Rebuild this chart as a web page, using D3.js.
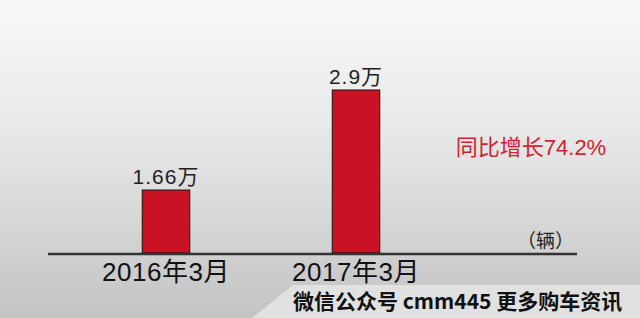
<!DOCTYPE html>
<html>
<head>
<meta charset="utf-8">
<script src="https://cdn.jsdelivr.net/npm/d3@7"></script>
<style>
  body { margin: 0; }
  text { font-family: "Liberation Sans", Arial, "Noto Sans CJK SC", sans-serif; }
</style>
</head>
<body>
<div id="chart"></div>
<script>
var categories = ['2016年3月', '2017年3月'];
var values = [1.66, 2.9];
var valueLabels = ['1.66万', '2.9万'];
var unitLabel = '（辆）';
var growthLabel = '同比增长74.2%';
var footerLabel = '微信公众号 cmm445 更多购车资讯';

var width = 640, height = 318;
var baseY = 253;

var svg = d3.select('#chart').append('svg')
    .attr('width', width)
    .attr('height', height);

// background gradient
var defs = svg.append('defs');
var grad = defs.append('linearGradient')
    .attr('id', 'bg')
    .attr('x1', 0).attr('y1', 0)
    .attr('x2', 0).attr('y2', 1);
grad.append('stop').attr('offset', '0%').attr('stop-color', '#f9f9f9');
grad.append('stop').attr('offset', '45%').attr('stop-color', '#e6e6e6');
grad.append('stop').attr('offset', '100%').attr('stop-color', '#c3c3c3');

svg.append('rect')
    .attr('width', width)
    .attr('height', height)
    .attr('fill', 'url(#bg)');

// footer banner
svg.append('polygon')
    .attr('points', '293,285 640,285 640,318 252,318')
    .attr('fill', '#e1e1e1');

svg.append('text')
    .attr('x', 293)
    .attr('y', 309)
    .style('font-family', '"Noto Sans CJK SC", "Liberation Sans", sans-serif')
    .style('font-size', '21px')
    .style('font-weight', 'bold')
    .attr('fill', '#111')
    .text(footerLabel);

var x = d3.scaleBand()
    .domain(categories)
    .range([71, 451])
    .paddingInner(0.75)
    .paddingOuter(0.375);

var y = d3.scaleLinear()
    .domain([0.88, 2.9])
    .range([baseY, 90]);

// bars
svg.selectAll('.bar')
    .data(values)
    .enter()
    .append('rect')
    .attr('class', 'bar')
    .attr('x', (d, i) => x(categories[i]))
    .attr('y', d => y(d))
    .attr('width', x.bandwidth())
    .attr('height', d => baseY - y(d))
    .attr('fill', '#c91324')
    .attr('stroke', '#111')
    .attr('stroke-width', 1);

// value labels
svg.selectAll('.vlabel')
    .data(values)
    .enter()
    .append('text')
    .attr('class', 'vlabel')
    .attr('x', (d, i) => x(categories[i]) + x.bandwidth() / 2)
    .attr('y', d => y(d) - 6)
    .attr('text-anchor', 'middle')
    .style('font-size', '21px')
    .style('letter-spacing', '1px')
    .attr('fill', '#222')
    .text((d, i) => valueLabels[i]);

// axis line
svg.append('line')
    .attr('x1', 48).attr('x2', 577)
    .attr('y1', baseY + 1).attr('y2', baseY + 1)
    .attr('stroke', '#333')
    .attr('stroke-width', 2.5);

// category labels
var xAxis = d3.axisBottom(x)
    .tickSize(0)
    .tickPadding(10);

var gx = svg.append('g')
    .attr('transform', 'translate(0,' + baseY + ')')
    .call(xAxis);
gx.select('.domain').remove();
gx.selectAll('text')
    .style('font-family', '"Liberation Sans", Arial, "Noto Sans CJK SC", sans-serif')
    .style('font-size', '26px')
    .style('letter-spacing', '0.5px')
    .attr('fill', '#111');

svg.append('text')
    .attr('x', 574)
    .attr('y', 248)
    .attr('text-anchor', 'end')
    .style('font-size', '19px')
    .attr('fill', '#222')
    .text(unitLabel);

svg.append('text')
    .attr('x', 531)
    .attr('y', 155)
    .attr('text-anchor', 'middle')
    .style('font-size', '22px')
    .attr('fill', '#d3222f')
    .text(growthLabel);
</script>
</body>
</html>
